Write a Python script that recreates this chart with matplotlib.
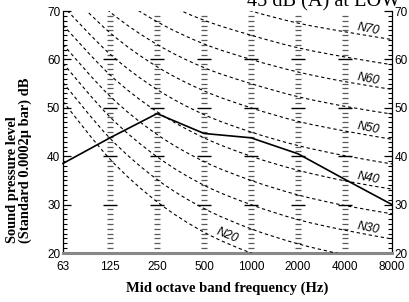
import matplotlib
matplotlib.use("Agg")
import matplotlib.pyplot as plt
import numpy as np
from matplotlib.path import Path
from matplotlib.patches import PathPatch
from matplotlib.ticker import MultipleLocator

# ---- data ----
freq_labels = ["63", "125", "250", "500", "1000", "2000", "4000", "8000"]
nr_levels = [20, 25, 30, 35, 40, 45, 50, 55, 60, 65, 70]
nr20 = [51.3, 39.4, 30.6, 24.3, 20.0, 16.8, 14.4, 12.6]
nr25 = [55.2, 43.7, 35.2, 29.2, 25.0, 21.9, 19.6, 17.8]
nr30 = [59.2, 48.1, 39.9, 34.0, 30.0, 26.9, 24.7, 22.9]
nr35 = [63.1, 52.4, 44.5, 38.9, 35.0, 32.0, 29.8, 28.1]
nr40 = [67.1, 56.8, 49.2, 43.8, 40.0, 37.1, 34.9, 33.2]
nr45 = [71.0, 61.1, 53.8, 48.6, 45.0, 42.2, 40.1, 38.4]
nr50 = [75.0, 65.5, 58.5, 53.5, 50.0, 47.2, 45.2, 43.5]
nr55 = [79.0, 69.8, 63.1, 58.3, 55.0, 52.3, 50.3, 48.7]
nr60 = [82.9, 74.2, 67.8, 63.2, 60.0, 57.4, 55.4, 53.8]
nr65 = [86.8, 78.5, 72.4, 68.1, 65.0, 62.4, 60.5, 58.9]
nr70 = [90.8, 82.9, 77.1, 73.0, 70.0, 67.5, 65.7, 64.1]
nr_curves = [nr20, nr25, nr30, nr35, nr40, nr45, nr50, nr55, nr60, nr65, nr70]
labelled = {20: 3.5, 30: 6.5, 40: 6.5, 50: 6.5, 60: 6.5, 70: 6.5}
measured = [38.5, 43.8, 48.8, 44.7, 43.8, 40.5, 35.2, 30.0]
title = "45 dB (A) at LOW"

W, H = 409, 302
fig = plt.figure(figsize=(W / 100, H / 100), dpi=100)
L, R, T, B = 63, 392, 11, 253
ax = fig.add_axes([L / W, 1 - B / H, (R - L) / W, (B - T) / H])
ax.set_xlim(0, len(freq_labels) - 1)
ax.set_ylim(20, 70)

x = np.arange(len(freq_labels))


def smooth_path(xs, ys):
    pts = np.column_stack([xs, ys]).astype(float)
    n = len(pts)
    verts = [pts[0]]
    codes = [Path.MOVETO]
    for i in range(n - 1):
        p0 = pts[i - 1] if i > 0 else pts[i]
        p1 = pts[i]
        p2 = pts[i + 1]
        p3 = pts[i + 2] if i + 2 < n else pts[i + 1]
        c1 = p1 + (p2 - p0) / 6.0
        c2 = p2 - (p3 - p1) / 6.0
        verts += [c1, c2, p2]
        codes += [Path.CURVE4] * 3
    return Path(verts, codes)


for lvl, vals in zip(nr_levels, nr_curves):
    patch = PathPatch(smooth_path(x, vals), fill=False, edgecolor="black",
                      linewidth=0.8, linestyle=(0, (3, 2.5)), zorder=3)
    ax.add_patch(patch)
    patch.set_clip_on(True)
    if lvl in labelled:
        lx = labelled[lvl]
        i0 = int(np.floor(lx))
        ly = (vals[i0] + vals[i0 + 1]) / 2 + 1.4
        rot = -22 if lvl == 20 else -11
        ax.text(lx, ly, f"N{lvl}", fontsize=8.8, style="italic",
                family="Liberation Sans", rotation=rot, ha="center",
                va="center", zorder=5)

# measured spectrum
ax.plot(x, measured, color="black", linewidth=1.2, zorder=4, clip_on=False)

# column tick marks at interior bands
small = [v for v in range(21, 70) if v % 10 != 0]
big = [30, 40, 50, 60]
for xi in x[1:-1]:
    ax.plot([xi] * len(small), small, linestyle="none", marker="_",
            markersize=3.8, markeredgewidth=0.9, color="#5a5a5a", zorder=2)
    ax.plot([xi] * len(big), big, linestyle="none", marker="_",
            markersize=9.5, markeredgewidth=1.0, color="black", zorder=2)

# spines
ax.spines["top"].set_visible(False)
ax.spines["left"].set_linewidth(0.9)
ax.spines["right"].set_linewidth(0.9)
ax.spines["bottom"].set_color("#888888")
ax.spines["bottom"].set_linewidth(2.2)

ax.yaxis.set_major_locator(MultipleLocator(10))
ax.yaxis.set_minor_locator(MultipleLocator(1))
ax.tick_params(axis="y", which="major", direction="in", length=6, width=0.9,
               left=True, right=True, labelleft=True, labelright=True,
               labelsize=8.5, pad=2)
ax.tick_params(axis="y", which="minor", direction="in", length=3, width=0.8,
               left=True, right=True)
for lab in ax.get_yticklabels():
    lab.set_family("Liberation Sans")
ax.set_xticks(x)
ax.set_xticklabels(freq_labels, family="Liberation Sans", fontsize=8.5)
ax.tick_params(axis="x", length=0, pad=6)

ax.set_xlabel("Mid octave band frequency (Hz)", family="Liberation Serif",
              fontweight="bold", fontsize=10.5, labelpad=6)
fig.text(19 / W, 1 - 243 / H, "Sound pressure level\n(Standard 0.0002\u03bc bar) dB",
         rotation=90, family="Liberation Serif", fontweight="bold",
         fontsize=10.4, ha="center", va="bottom", multialignment="left",
         linespacing=1.0)

fig.text(323.5 / W, 1 - 6 / H, title, family="Liberation Serif",
         fontsize=14.6, ha="center", va="baseline")

fig.savefig("out.png", dpi=100)
